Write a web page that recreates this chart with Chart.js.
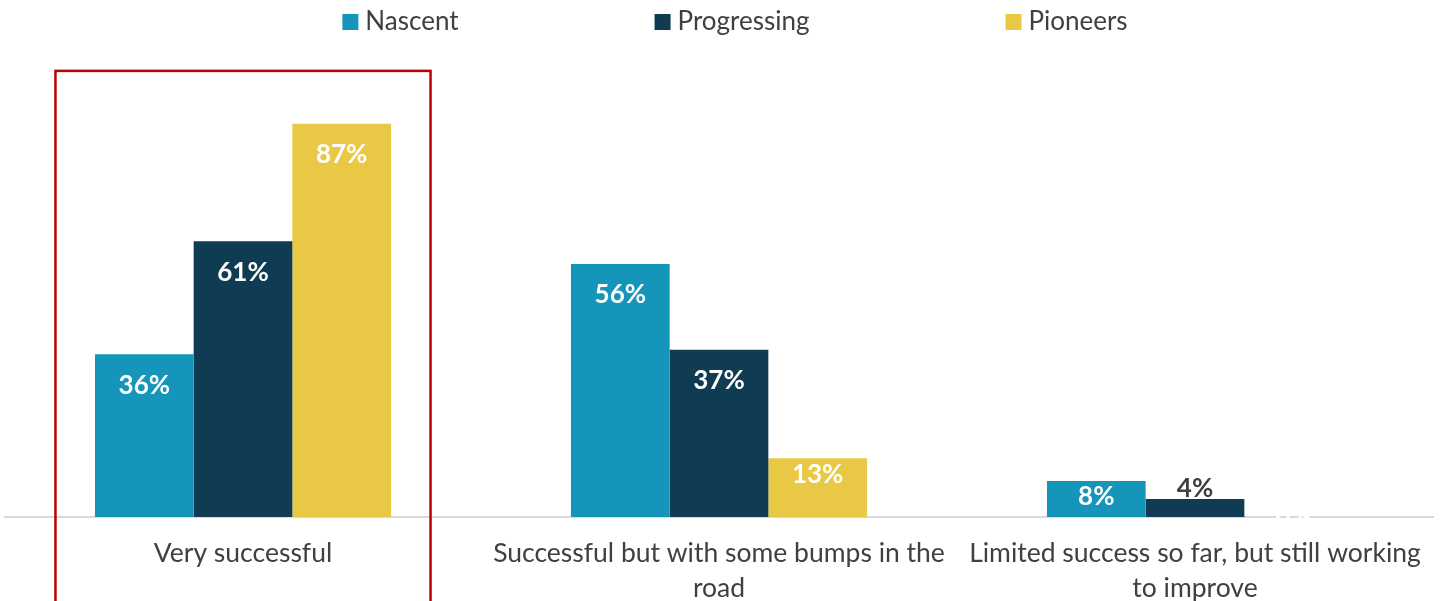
<!doctype html>
<html lang="en">
  <head>
    <meta charset="utf-8">
    <title>Success by maturity</title>
    <script src="https://cdn.jsdelivr.net/npm/chart.js"></script>
    <style>
      html, body { margin: 0; padding: 0; background: #fff; overflow: hidden; }
      .chart-wrap { position: relative; width: 1442px; height: 617px; }
    </style>
  </head>
  <body>
    <div class="chart-wrap">
      <canvas id="successChart"></canvas>
    </div>
    <script>
      const categories = [
        'Very successful',
        ['Successful but with some bumps in the', 'road'],
        ['Limited success so far, but still working', 'to improve']
      ];
      const seriesNames = ['Nascent', 'Progressing', 'Pioneers'];
      const nascent = [36, 56, 8];
      const progressing = [61, 37, 4];
      const pioneers = [87, 13, 0];
      const seriesColors = ['#1595ba', '#0f3c53', '#e9c845'];

      const FONT = 'Lato, "Open Sans", sans-serif';
      const TEXT = '#404040';

      // legend row drawn on the canvas, spaced out like the original deck
      const legendRow = {
        id: 'legendRow',
        afterDraw(chart) {
          const ctx = chart.ctx;
          ctx.save();
          ctx.font = '26px ' + FONT;
          ctx.textBaseline = 'middle';
          const box = 16, gapText = 7, gapItem = 196;
          const widths = seriesNames.map(n => box + gapText + ctx.measureText(n).width);
          const total = widths.reduce((a, b) => a + b, 0) + gapItem * (widths.length - 1);
          let x = 735 - total / 2;
          const y = 22;
          seriesNames.forEach((n, i) => {
            ctx.fillStyle = seriesColors[i];
            ctx.fillRect(x, y - box / 2, box, box);
            ctx.fillStyle = TEXT;
            ctx.fillText(n, x + box + gapText, y);
            x += widths[i] + gapItem;
          });
          ctx.restore();
        }
      };

      // value labels: inside the bar top in white, above it when the bar is too short
      const valueLabels = {
        id: 'valueLabels',
        afterDatasetsDraw(chart) {
          const ctx = chart.ctx;
          ctx.save();
          ctx.font = 'bold 26px ' + FONT;
          ctx.textAlign = 'center';
          ctx.textBaseline = 'middle';
          chart.data.datasets.forEach((ds, di) => {
            chart.getDatasetMeta(di).data.forEach((bar, i) => {
              const v = ds.data[i];
              const h = bar.base - bar.y;
              let y, color;
              if (v > 0 && h < 30) {
                y = bar.y - 10;
                color = TEXT;
              } else {
                y = Math.min(bar.y + (h > 80 ? 31 : 16), bar.base);
                color = '#ffffff';
              }
              ctx.fillStyle = color;
              ctx.fillText(v + '%', bar.x, y);
            });
          });
          ctx.restore();
        }
      };

      // red highlight frame around the first category
      const highlightBox = {
        id: 'highlightBox',
        afterDraw(chart) {
          const xs = chart.scales.x, ys = chart.scales.y;
          const step = xs.getPixelForValue(1) - xs.getPixelForValue(0);
          const cx = xs.getPixelForValue(0);
          const left = cx - step * 0.394, right = cx + step * 0.394;
          const top = ys.getPixelForValue(98.7);
          const ctx = chart.ctx;
          ctx.save();
          ctx.strokeStyle = '#c00000';
          ctx.lineWidth = 2.5;
          ctx.strokeRect(left, top, right - left, chart.height + 20 - top);
          ctx.restore();
        }
      };

      new Chart(document.getElementById('successChart'), {
        type: 'bar',
        data: {
          labels: categories,
          datasets: [
            { label: seriesNames[0], data: nascent, backgroundColor: seriesColors[0] },
            { label: seriesNames[1], data: progressing, backgroundColor: seriesColors[1] },
            { label: seriesNames[2], data: pioneers, backgroundColor: seriesColors[2] }
          ]
        },
        options: {
          responsive: true,
          maintainAspectRatio: false,
          animation: false,
          datasets: { bar: { barPercentage: 1, categoryPercentage: 0.622 } },
          layout: { padding: { top: 65, left: 5, right: 9, bottom: 0 } },
          plugins: {
            legend: { display: false },
            tooltip: { enabled: false }
          },
          scales: {
            x: {
              grid: { display: false },
              border: { display: true, color: '#d9d9d9', width: 2 },
              ticks: {
                color: TEXT,
                font: { family: FONT, size: 26.5, lineHeight: 1.32 },
                padding: 11,
                maxRotation: 0,
                autoSkip: false
              }
            },
            y: {
              display: false,
              min: 0,
              max: 100
            }
          }
        },
        plugins: [legendRow, valueLabels, highlightBox]
      });
    </script>
  </body>
</html>
